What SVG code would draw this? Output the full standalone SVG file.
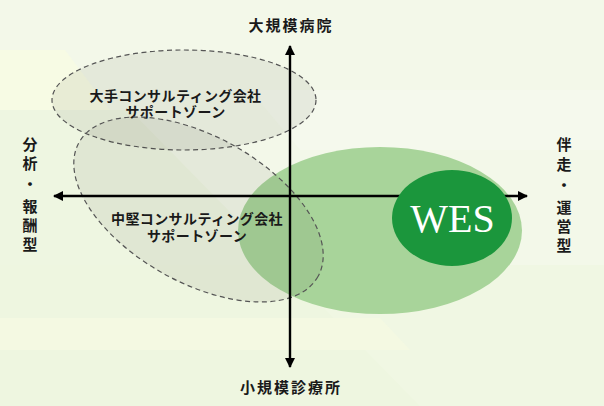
<svg xmlns="http://www.w3.org/2000/svg" width="604" height="406" viewBox="0 0 604 406">
  <style>
    .zone { fill: rgb(40,42,30); fill-opacity: 0.07; stroke: #555; stroke-width: 1.2; stroke-dasharray: 5 3.5; }
    .axis { stroke: #000; stroke-width: 2.4; fill: none; }
    .lbl { font-family: "Noto Sans CJK JP", "Noto Sans", sans-serif; font-weight: bold; fill: #1a1a1a; }
    .ax { font-size: 15px; letter-spacing: 2px; text-anchor: middle; }
    .vt { font-size: 15px; text-anchor: middle; }
    .zt { font-size: 14px; text-anchor: middle; letter-spacing: 0.4px; }
    .wes { font-family: "Liberation Serif", "Times New Roman", serif; font-size: 40px; fill: #fff; text-anchor: middle; }
  </style>
  <defs>
    <marker id="arr" viewBox="0 0 10 10" refX="9" refY="5" markerWidth="4.2" markerHeight="4.2" orient="auto" markerUnits="strokeWidth">
      <path d="M0,0 L10,5 L0,10 z" fill="#000"/>
    </marker>
  </defs>
  <g id="background">
    <rect x="0" y="0" width="604" height="406" fill="#f3f8e9"/>
    <polygon points="0,50 65,50 110,110 0,110" fill="#f7fbe4"/>
    <polygon points="0,110 130,110 420,406 0,406" fill="#eef6e1"/>
    <polygon points="0,265 604,265 604,406 0,406" fill="#eef6e0" opacity="0.6"/>
    <polygon points="0,318 380,318 410,350 0,350" fill="#f4f9e2"/>
    <polygon points="250,90 604,90 604,150 300,150" fill="#f5f9ee" opacity="0.7"/>
  </g>
  <g id="green-zone">
    <ellipse cx="380" cy="230.5" rx="142" ry="83.5" fill="#a8d49a"/>
  </g>
  <g id="large-consult-zone">
    <ellipse class="zone" cx="184" cy="100" rx="132" ry="50"/>
    <text class="lbl zt" x="175.5" y="100.5">大手コンサルティング会社</text>
    <text class="lbl zt" x="175.5" y="117">サポートゾーン</text>
  </g>
  <g id="mid-consult-zone">
    <ellipse class="zone" cx="0" cy="0" rx="137" ry="73" transform="translate(198.5 209.5) rotate(29.3)"/>
  </g>
  <g id="connectors">
    <line class="axis" x1="290" y1="196" x2="290" y2="46" marker-end="url(#arr)"/>
    <line class="axis" x1="290" y1="196" x2="290" y2="367" marker-end="url(#arr)"/>
    <line class="axis" x1="290" y1="196" x2="54" y2="196" marker-end="url(#arr)"/>
    <line class="axis" x1="290" y1="196" x2="527" y2="196" marker-end="url(#arr)"/>
  </g>
  <g id="mid-consult-label">
    <text class="lbl zt" x="197" y="223.5">中堅コンサルティング会社</text>
    <text class="lbl zt" x="197" y="240.5">サポートゾーン</text>
  </g>
  <g id="wes">
    <ellipse cx="452" cy="218" rx="60" ry="48" fill="#1b963c"/>
    <text class="wes" x="452.5" y="232">WES</text>
  </g>
  <g id="label-top">
    <text class="lbl ax" x="291" y="31">大規模病院</text>
  </g>
  <g id="label-bottom">
    <text class="lbl ax" x="291" y="393">小規模診療所</text>
  </g>
  <g id="label-left">
    <text class="lbl vt" x="30" y="150">分</text>
    <text class="lbl vt" x="30" y="168.5">析</text>
    <text class="lbl vt" x="30" y="190">・</text>
    <text class="lbl vt" x="30" y="212">報</text>
    <text class="lbl vt" x="30" y="231">酬</text>
    <text class="lbl vt" x="30" y="250">型</text>
  </g>
  <g id="label-right">
    <text class="lbl vt" x="564" y="150">伴</text>
    <text class="lbl vt" x="564" y="170">走</text>
    <text class="lbl vt" x="564" y="191">・</text>
    <text class="lbl vt" x="564" y="213">運</text>
    <text class="lbl vt" x="564" y="231.5">営</text>
    <text class="lbl vt" x="564" y="251">型</text>
  </g>
</svg>
